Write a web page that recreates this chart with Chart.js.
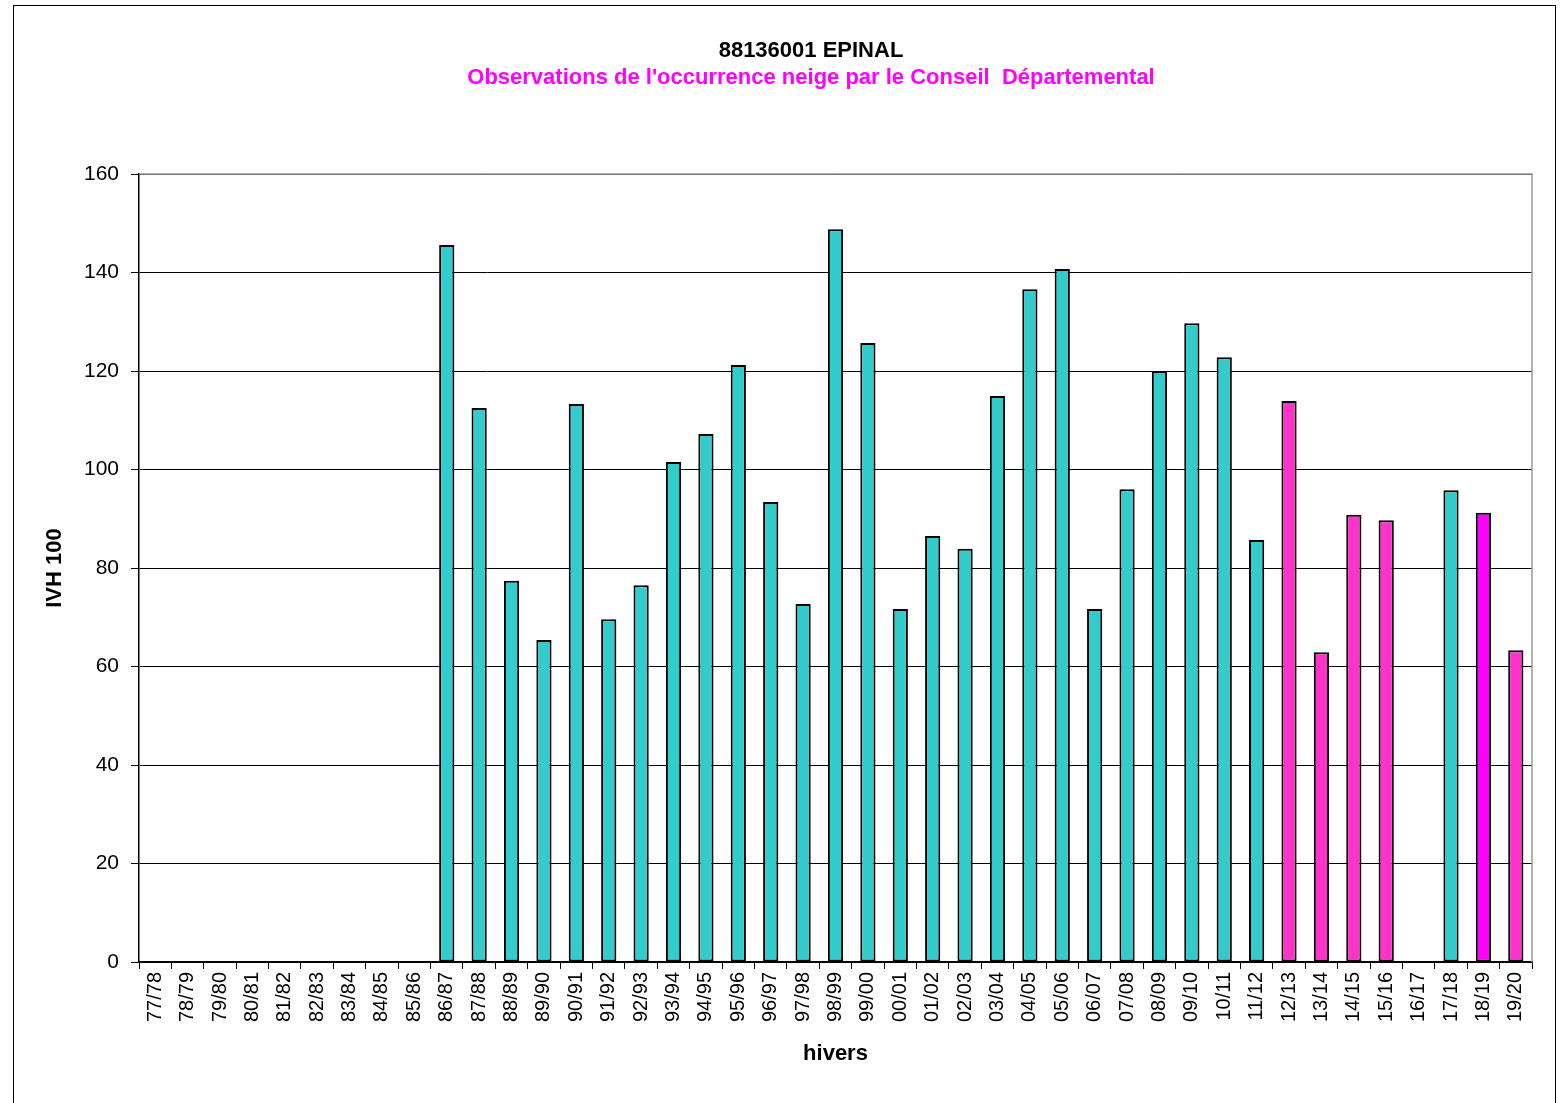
<!DOCTYPE html>
<html>
<head>
    <title>88136001 EPINAL</title>
    <script src="https://cdn.jsdelivr.net/npm/chart.js"></script>
    <style>
        body { margin: 0; background: #fff; }
        #wrap { position: relative; width: 1560px; height: 1103px; }
        #frame { position: absolute; left: 13px; top: 5px; width: 1541px; height: 1110px; border: 1px solid #000; pointer-events: none; }
    </style>
</head>
<body>
    <div id="wrap">
        <canvas id="ivh-chart" width="1560" height="1103"></canvas>
        <div id="frame"></div>
    </div>

    <script>
        // hivers
        const winters = ['77/78','78/79','79/80','80/81','81/82','82/83','83/84','84/85','85/86','86/87',
            '87/88','88/89','89/90','90/91','91/92','92/93','93/94','94/95','95/96','96/97',
            '97/98','98/99','99/00','00/01','01/02','02/03','03/04','04/05','05/06','06/07',
            '07/08','08/09','09/10','10/11','11/12','12/13','13/14','14/15','15/16','16/17',
            '17/18','18/19','19/20'];

        // IVH 100 par hiver (null = pas de donnée)
        const ivhValues = [null,null,null,null,null,null,null,null,null,145.6,
            112.5,77.4,65.4,113.3,69.6,76.5,101.5,107.2,121.2,93.4,
            72.7,148.8,125.7,71.7,86.5,83.9,114.9,136.6,140.7,71.7,
            96.0,120.0,129.7,122.8,85.7,113.9,62.9,90.8,89.7,null,
            95.8,91.2,63.3];

        // source : 'S' = station, 'C' = Conseil Départemental, 'M' = magenta vif
        const sources = ['S','S','S','S','S','S','S','S','S','S',
            'S','S','S','S','S','S','S','S','S','S',
            'S','S','S','S','S','S','S','S','S','S',
            'S','S','S','S','S','C','C','C','C','S',
            'S','M','C'];

        const yTicks = [0, 20, 40, 60, 80, 100, 120, 140, 160];

        const chartTitle = '88136001 EPINAL';
        const chartSubtitle = "Observations de l'occurrence neige par le Conseil  Départemental";

        const colorMap = { S: '#33CCCC', C: '#FF33CC', M: '#FF00FF' };
        const barColors = sources.map(s => colorMap[s]);

        const FONT = '"Liberation Sans", Arial, sans-serif';

        // titres + bord haut/droit gris de la zone de tracé
        const decorations = {
            id: 'decorations',
            afterDraw(chart) {
                const a = chart.chartArea;
                const c = chart.ctx;
                c.save();
                c.strokeStyle = '#999';
                c.lineWidth = 1.5;
                c.beginPath();
                c.moveTo(a.left, a.top);
                c.lineTo(a.right, a.top);
                c.lineTo(a.right, a.bottom);
                c.stroke();

                c.textAlign = 'center';
                c.textBaseline = 'middle';
                c.font = 'bold 22px ' + FONT;
                c.fillStyle = '#000';
                c.fillText(chartTitle, 811, 51);
                c.fillStyle = '#FF00FF';
                c.fillText(chartSubtitle, 811, 78);
                c.restore();
            }
        };

        Chart.defaults.font.family = FONT;
        Chart.defaults.color = '#000';

        const ctx = document.getElementById('ivh-chart').getContext('2d');
        new Chart(ctx, {
            type: 'bar',
            data: {
                labels: winters,
                datasets: [{
                    label: 'IVH 100',
                    data: ivhValues,
                    backgroundColor: barColors,
                    borderColor: '#000',
                    borderWidth: 2,
                    borderSkipped: false,
                    categoryPercentage: 1.0,
                    barPercentage: 0.47
                }]
            },
            plugins: [decorations],
            options: {
                responsive: false,
                animation: false,
                layout: { padding: { top: 174, right: 28, bottom: 30, left: 30 } },
                plugins: {
                    legend: { display: false },
                    tooltip: { enabled: false },
                    title: { display: false }
                },
                scales: {
                    x: {
                        afterFit(scale) { scale.height = 111; },
                        grid: { display: true, drawOnChartArea: false, drawTicks: true, tickLength: 7, color: '#000', offset: true },
                        border: { color: '#000', width: 1.5 },
                        ticks: { font: { size: 20 }, maxRotation: 90, minRotation: 90, autoSkip: false, padding: 3 },
                        title: { display: true, text: 'hivers', font: { size: 22, weight: 'bold' }, padding: { top: 4, bottom: 6 } }
                    },
                    y: {
                        min: 0,
                        max: 160,
                        afterFit(scale) { scale.width = 109; },
                        afterBuildTicks(scale) { scale.ticks = yTicks.map(v => ({ value: v })); },
                        grid: { color: '#000', lineWidth: 1, tickLength: 8 },
                        border: { color: '#000', width: 1.5 },
                        ticks: { font: { size: 21 }, padding: 12 },
                        title: { display: true, text: 'IVH 100', font: { size: 22, weight: 'bold' }, padding: { top: 12, bottom: 0 } }
                    }
                }
            }
        });
    </script>
</body>
</html>
